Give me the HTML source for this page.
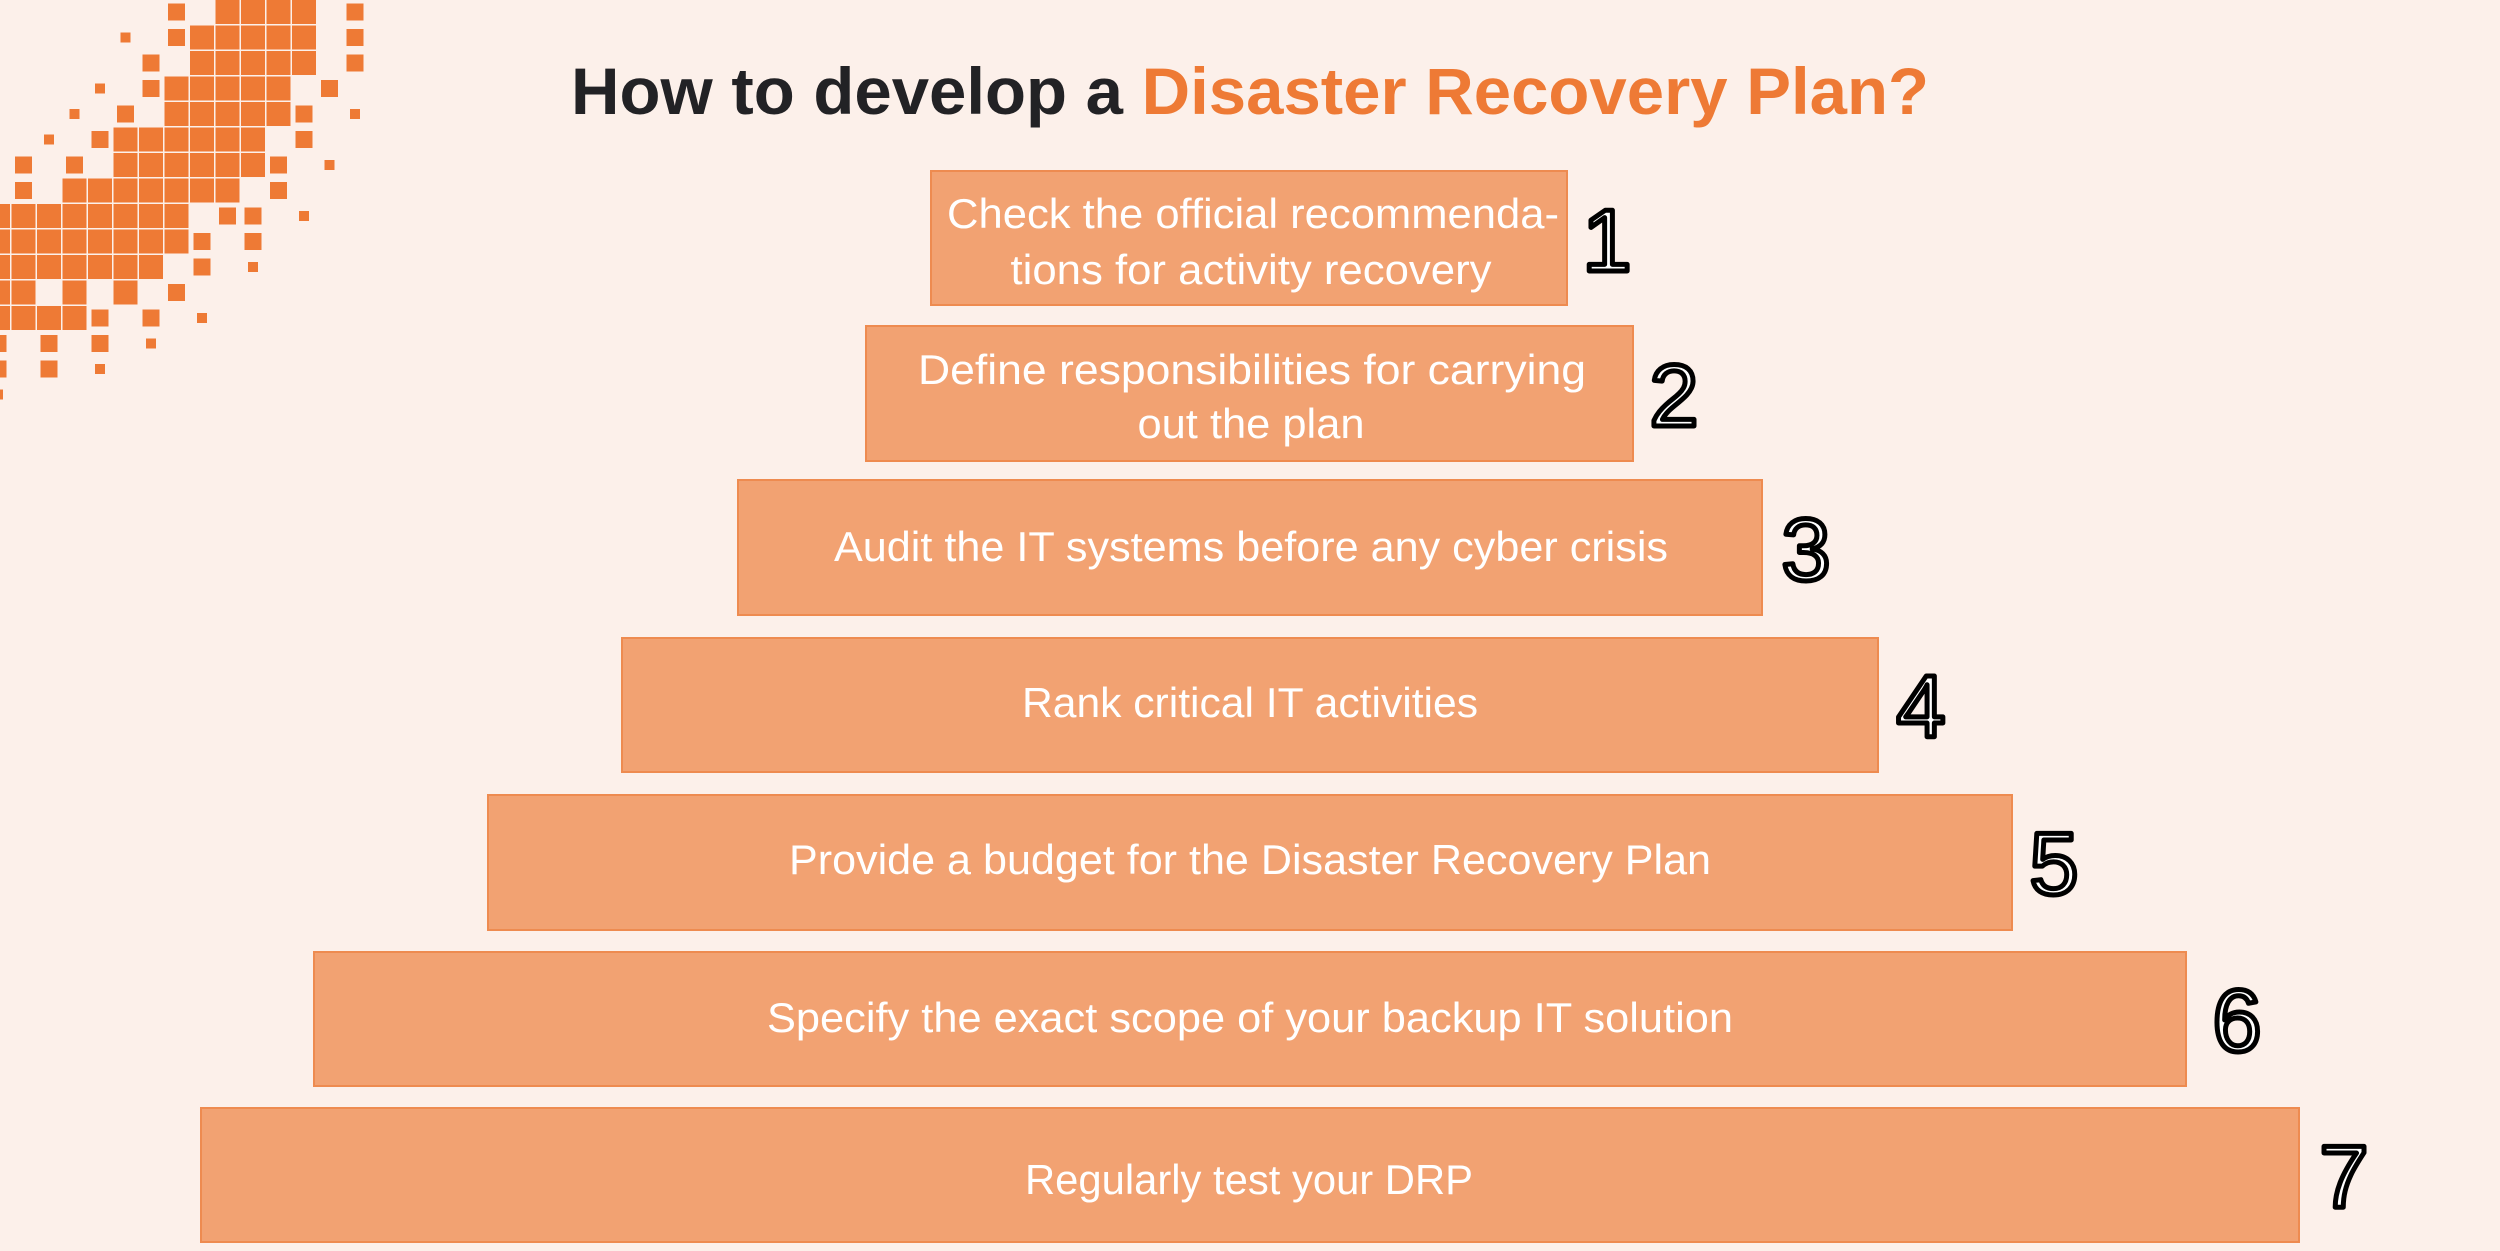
<!DOCTYPE html>
<html><head><meta charset="utf-8"><style>
html,body{margin:0;padding:0;background:#FCF0EA;}
svg{display:block}
</style></head><body>
<svg width="2500" height="1251" viewBox="0 0 2500 1251" xmlns="http://www.w3.org/2000/svg">
<rect width="2500" height="1251" fill="#FCF0EA"/>
<g id="px" fill="#EE7A35"></g>
<text x="571" y="114" textLength="1358" lengthAdjust="spacingAndGlyphs" font-family="Liberation Sans, sans-serif" font-weight="bold" font-size="66" fill="#222225">How to develop a <tspan fill="#EE7A35">Disaster Recovery Plan?</tspan></text>
<g fill="#F2A272" stroke="#EE8B50" stroke-width="2">
<rect x="931" y="171" width="636" height="134"/>
<rect x="866" y="326" width="767" height="135"/>
<rect x="738" y="480" width="1024" height="135"/>
<rect x="622" y="638" width="1256" height="134"/>
<rect x="488" y="795" width="1524" height="135"/>
<rect x="314" y="952" width="1872" height="134"/>
<rect x="201" y="1108" width="2098" height="134"/>
</g>
<g font-family="Liberation Sans, sans-serif" font-size="42" fill="#FFFFFF" text-anchor="middle">
<text x="1253" y="228" textLength="612" lengthAdjust="spacingAndGlyphs">Check the official recommenda-</text>
<text x="1251" y="284" textLength="481" lengthAdjust="spacingAndGlyphs">tions for activity recovery</text>
<text x="1252" y="384" textLength="668" lengthAdjust="spacingAndGlyphs">Define responsibilities for carrying</text>
<text x="1251" y="438" textLength="227" lengthAdjust="spacingAndGlyphs">out the plan</text>
<text x="1251" y="561" textLength="834" lengthAdjust="spacingAndGlyphs">Audit the IT systems before any cyber crisis</text>
<text x="1250" y="717" textLength="456" lengthAdjust="spacingAndGlyphs">Rank critical IT activities</text>
<text x="1250" y="874" textLength="922" lengthAdjust="spacingAndGlyphs">Provide a budget for the Disaster Recovery Plan</text>
<text x="1250" y="1032" textLength="966" lengthAdjust="spacingAndGlyphs">Specify the exact scope of your backup IT solution</text>
<text x="1249" y="1194" textLength="448" lengthAdjust="spacingAndGlyphs">Regularly test your DRP</text>
</g>
<g font-family="Liberation Sans, sans-serif" font-size="88" fill="#FFFFFF" stroke="#000" stroke-width="5" stroke-linejoin="round" text-anchor="middle">
<text x="1607" y="271">1</text>
<text x="1674" y="426">2</text>
<text x="1806" y="580">3</text>
<text x="1921" y="737">4</text>
<text x="2054" y="894">5</text>
<text x="2237" y="1051">6</text>
<text x="2344" y="1207">7</text>
</g>
<script>
var cells=[
[0,7,'m'],[0,9,'B'],[0,10,'B'],[0,11,'B'],[0,12,'B'],[0,14,'m'],
[1,5,'s'],[1,7,'m'],[1,8,'B'],[1,9,'B'],[1,10,'B'],[1,11,'B'],[1,12,'B'],[1,14,'m'],
[2,6,'m'],[2,8,'B'],[2,9,'B'],[2,10,'B'],[2,11,'B'],[2,12,'B'],[2,14,'m'],
[3,4,'s'],[3,6,'m'],[3,7,'B'],[3,8,'B'],[3,9,'B'],[3,10,'B'],[3,11,'B'],[3,13,'m'],
[4,3,'s'],[4,5,'m'],[4,7,'B'],[4,8,'B'],[4,9,'B'],[4,10,'B'],[4,11,'B'],[4,12,'m'],[4,14,'s'],
[5,2,'s'],[5,4,'m'],[5,5,'B'],[5,6,'B'],[5,7,'B'],[5,8,'B'],[5,9,'B'],[5,10,'B'],[5,12,'m'],
[6,1,'m'],[6,3,'m'],[6,5,'B'],[6,6,'B'],[6,7,'B'],[6,8,'B'],[6,9,'B'],[6,10,'B'],[6,11,'m'],[6,13,'s'],
[7,1,'m'],[7,3,'B'],[7,4,'B'],[7,5,'B'],[7,6,'B'],[7,7,'B'],[7,8,'B'],[7,9,'B'],[7,11,'m'],
[8,0,'B'],[8,1,'B'],[8,2,'B'],[8,3,'B'],[8,4,'B'],[8,5,'B'],[8,6,'B'],[8,7,'B'],[8,9,'m'],[8,10,'m'],[8,12,'s'],
[9,0,'B'],[9,1,'B'],[9,2,'B'],[9,3,'B'],[9,4,'B'],[9,5,'B'],[9,6,'B'],[9,7,'B'],[9,8,'m'],[9,10,'m'],
[10,0,'B'],[10,1,'B'],[10,2,'B'],[10,3,'B'],[10,4,'B'],[10,5,'B'],[10,6,'B'],[10,8,'m'],[10,10,'s'],
[11,0,'B'],[11,1,'B'],[11,3,'B'],[11,5,'B'],[11,7,'m'],
[12,0,'B'],[12,1,'B'],[12,2,'B'],[12,3,'B'],[12,4,'m'],[12,6,'m'],[12,8,'s'],
[13,0,'m'],[13,2,'m'],[13,4,'m'],[13,6,'s'],
[14,0,'m'],[14,2,'m'],[14,4,'s'],
[15,0,'s']];
var g=document.getElementById('px'),sz={B:24,m:17,s:10};
cells.forEach(function(c){var s=sz[c[2]],cx=-2+25.5*c[1],cy=12+25.5*c[0];
var r=document.createElementNS('http://www.w3.org/2000/svg','rect');
r.setAttribute('x',cx-s/2);r.setAttribute('y',cy-s/2);r.setAttribute('width',s);r.setAttribute('height',s);g.appendChild(r);});
</script>
</svg>
</body></html>
